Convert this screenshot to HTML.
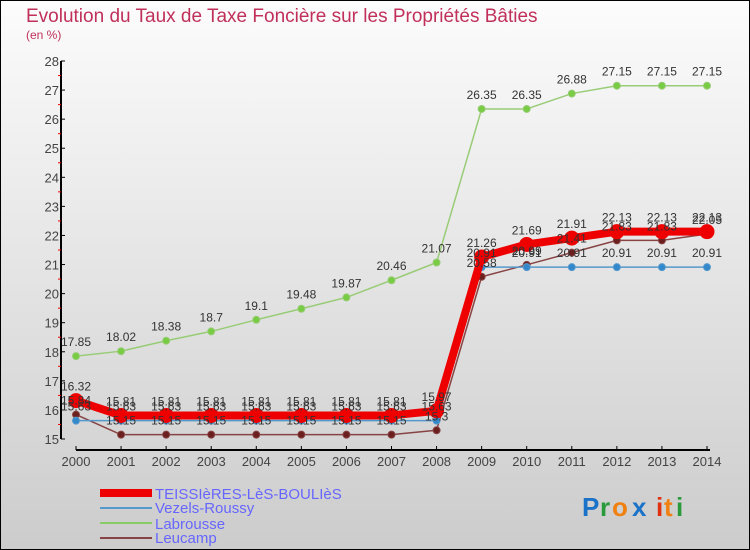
<!DOCTYPE html>
<html><head><meta charset="utf-8"><style>
body{margin:0}
#c{width:750px;height:550px;position:relative;overflow:hidden}
text{font-family:"Liberation Sans",sans-serif}
</style></head><body>
<div id="c">
<svg id="svg" width="750" height="550" xmlns="http://www.w3.org/2000/svg">
<defs><linearGradient id="bg" x1="0" y1="0" x2="0" y2="1"><stop offset="0" stop-color="#fcfcfc"/><stop offset="1" stop-color="#cccccc"/></linearGradient></defs>
<rect x="0.5" y="0.5" width="749" height="549" fill="url(#bg)" stroke="#000"/>
<text x="26" y="22" font-size="19" fill="#c0305a">Evolution du Taux de Taxe Foncière sur les Propriétés Bâties</text>
<text x="26" y="39" font-size="12" fill="#c0305a">(en %)</text>
<g id="axes"></g>
<g id="series"></g>
<g id="labels"></g>
<g>
<line x1="100" y1="493" x2="152" y2="493" stroke="#ee0000" stroke-width="8"/>
<text x="155" y="499" font-size="15" fill="#6666ff">TEISSIèRES-LèS-BOULIèS</text>
<line x1="100" y1="508" x2="152" y2="508" stroke="#5599cc" stroke-width="2"/>
<text x="155" y="513" font-size="15" fill="#6666ff">Vezels-Roussy</text>
<line x1="100" y1="523" x2="152" y2="523" stroke="#88cc66" stroke-width="2"/>
<text x="155" y="529" font-size="15" fill="#6666ff">Labrousse</text>
<line x1="100" y1="538" x2="152" y2="538" stroke="#884444" stroke-width="2"/>
<text x="155" y="543" font-size="15" fill="#6666ff">Leucamp</text>
</g>
<g font-size="26" font-weight="bold">
<text x="582" y="516" fill="#1a73c8">P</text><text x="600" y="516" fill="#2a9a3a">r</text><text x="612" y="516" fill="#f08010">o</text><text x="632" y="516" fill="#1a73c8">x</text><text x="656" y="516" fill="#e03010">i</text><text x="664" y="516" fill="#f08010">t</text><text x="676" y="516" fill="#2a9a3a">i</text>
</g>
</svg>
</div>
<script>
const years=[2000,2001,2002,2003,2004,2005,2006,2007,2008,2009,2010,2011,2012,2013,2014];
const yTicks=[15,16,17,18,19,20,21,22,23,24,25,26,27,28];
const teissieres=[16.32,15.81,15.81,15.81,15.81,15.81,15.81,15.81,15.97,21.26,21.69,21.91,22.13,22.13,22.13];
const vezels=[15.63,15.63,15.63,15.63,15.63,15.63,15.63,15.63,15.63,20.91,20.91,20.91,20.91,20.91,20.91];
const labrousse=[17.85,18.02,18.38,18.7,19.1,19.48,19.87,20.46,21.07,26.35,26.35,26.88,27.15,27.15,27.15];
const leucamp=[15.84,15.15,15.15,15.15,15.15,15.15,15.15,15.15,15.3,20.58,20.99,21.41,21.83,21.83,22.05];
const NS="http://www.w3.org/2000/svg";
function xS(i){return 76+i*(707-76)/(years.length-1);}
function yS(v){return 439-(v-15)*(439-61)/13;}
function mk(t,a,p){const e=document.createElementNS(NS,t);for(const k in a)e.setAttribute(k,a[k]);p.appendChild(e);return e;}
const ax=document.getElementById('axes');
let l=mk('line',{x1:61,y1:61,x2:61,y2:439,stroke:'#000','stroke-width':2},ax);


yTicks.forEach(v=>{
 mk('line',{x1:61,y1:yS(v),x2:65,y2:yS(v),stroke:'#000'},ax);
 if(v<28)mk('line',{x1:58,y1:yS(v+0.5),x2:61,y2:yS(v+0.5),stroke:'#e00'},ax);
 const t=mk('text',{x:59,y:yS(v)+5,'font-size':13,fill:'#444','text-anchor':'end'},ax);t.textContent=v;
 
 
});
l=mk('line',{x1:76,y1:450,x2:710,y2:450,stroke:'#000','stroke-width':2},ax);


years.forEach((y,i)=>{
 mk('line',{x1:xS(i),y1:446,x2:xS(i),y2:450,stroke:'#000'},ax);
 const t=mk('text',{x:xS(i),y:466,'font-size':13,fill:'#444','text-anchor':'middle'},ax);t.textContent=y;
 
 
});
const sg=document.getElementById('series'),lg=document.getElementById('labels');
function draw(data,color,w,r,name,dotColor){
 const pts=data.map((v,i)=>xS(i)+','+yS(v)).join(' ');
 const pl=mk('polyline',{points:pts,fill:'none',stroke:color,'stroke-width':w,'stroke-linejoin':'round'},sg);
 
 
 data.forEach((v,i)=>{
  const c=mk('circle',{cx:xS(i),cy:yS(v),r:r,fill:dotColor,stroke:color,'stroke-width':1},sg);
  
  
  const t=mk('text',{x:xS(i),y:yS(v)-10,'font-size':12,fill:'#333','text-anchor':'middle'},lg);t.textContent=v;
  
  
 });
}
draw(labrousse,'#99cc77',1.5,3.5,'labrousse','#77cc44');
draw(leucamp,'#884444',1.5,3.5,'leucamp','#6b1f1f');
draw(vezels,'#5599cc',1.5,3.5,'vezels','#3388cc');
draw(teissieres,'#ee0000',8,7,'teissieres','#ee0000');
</script>
</body></html>
